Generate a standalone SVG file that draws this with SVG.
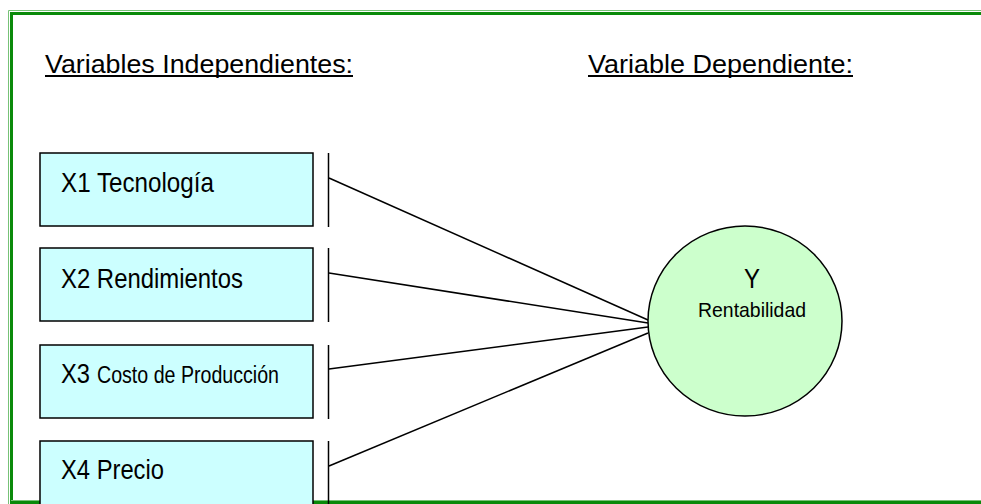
<svg xmlns="http://www.w3.org/2000/svg" width="981" height="504" viewBox="0 0 981 504">
<style>
.box{fill:#ccffff;stroke:#000;stroke-width:1.5}
.t{font-family:"Liberation Sans",Arial,sans-serif;fill:#000}
.h{font-size:26.5px}
.b{font-size:28px}
.c{fill:none;stroke:#000;stroke-width:1.5}
</style>
<rect width="981" height="504" fill="#fff"/>
<g id="frame">
<path d="M8.5 504 V10.5 H981" fill="none" stroke="#77c277" stroke-width="1"/>
<path d="M11.5 504 V13.5 H981" fill="none" stroke="#0a8a0a" stroke-width="3"/>
<path d="M11 502.5 H981" fill="none" stroke="#0a8a0a" stroke-width="3"/>
<path d="M11 500.5 H981" fill="none" stroke="#77c277" stroke-width="1"/>
</g>
<g id="headings">
<text class="t h" x="45" y="72.5" textLength="308" lengthAdjust="spacingAndGlyphs">Variables Independientes:</text>
<line x1="45" y1="76" x2="353" y2="76" stroke="#000" stroke-width="2"/>
<text class="t h" x="588" y="72.5" textLength="265" lengthAdjust="spacingAndGlyphs">Variable Dependiente:</text>
<line x1="588" y1="76" x2="853" y2="76" stroke="#000" stroke-width="2"/>
</g>
<g id="connectors">
<line class="c" x1="328.5" y1="153" x2="328.5" y2="227"/>
<line class="c" x1="328.5" y1="248" x2="328.5" y2="322"/>
<line class="c" x1="328.5" y1="345" x2="328.5" y2="419"/>
<line class="c" x1="328.5" y1="441" x2="328.5" y2="504"/>
<line class="c" x1="329" y1="178" x2="648" y2="320"/>
<line class="c" x1="329" y1="273" x2="648" y2="323"/>
<line class="c" x1="329" y1="369" x2="648" y2="327"/>
<line class="c" x1="329" y1="466" x2="648" y2="333"/>
</g>
<g id="x1">
<rect class="box" x="40" y="153" width="273" height="73"/>
<text class="t b" x="61" y="192" textLength="153" lengthAdjust="spacingAndGlyphs">X1 Tecnología</text>
</g>
<g id="x2">
<rect class="box" x="40" y="248" width="273" height="73"/>
<text class="t b" x="61" y="288" textLength="182" lengthAdjust="spacingAndGlyphs">X2 Rendimientos</text>
</g>
<g id="x3">
<rect class="box" x="40" y="345" width="273" height="73"/>
<text class="t b" x="61" y="383" textLength="29" lengthAdjust="spacingAndGlyphs">X3</text>
<text class="t" x="97" y="383" font-size="23" textLength="182" lengthAdjust="spacingAndGlyphs">Costo de Producción</text>
</g>
<g id="x4">
<rect class="box" x="40" y="441" width="273" height="80"/>
<text class="t b" x="61" y="479" textLength="103" lengthAdjust="spacingAndGlyphs">X4 Precio</text>
</g>
<g id="y">
<ellipse cx="745" cy="321" rx="97" ry="95" fill="#ccffcc" stroke="#000" stroke-width="1.5"/>
<text class="t" x="752" y="288" font-size="27" text-anchor="middle" textLength="16" lengthAdjust="spacingAndGlyphs">Y</text>
<text class="t" x="752" y="317" font-size="21" text-anchor="middle" textLength="108" lengthAdjust="spacingAndGlyphs">Rentabilidad</text>
</g>
</svg>
